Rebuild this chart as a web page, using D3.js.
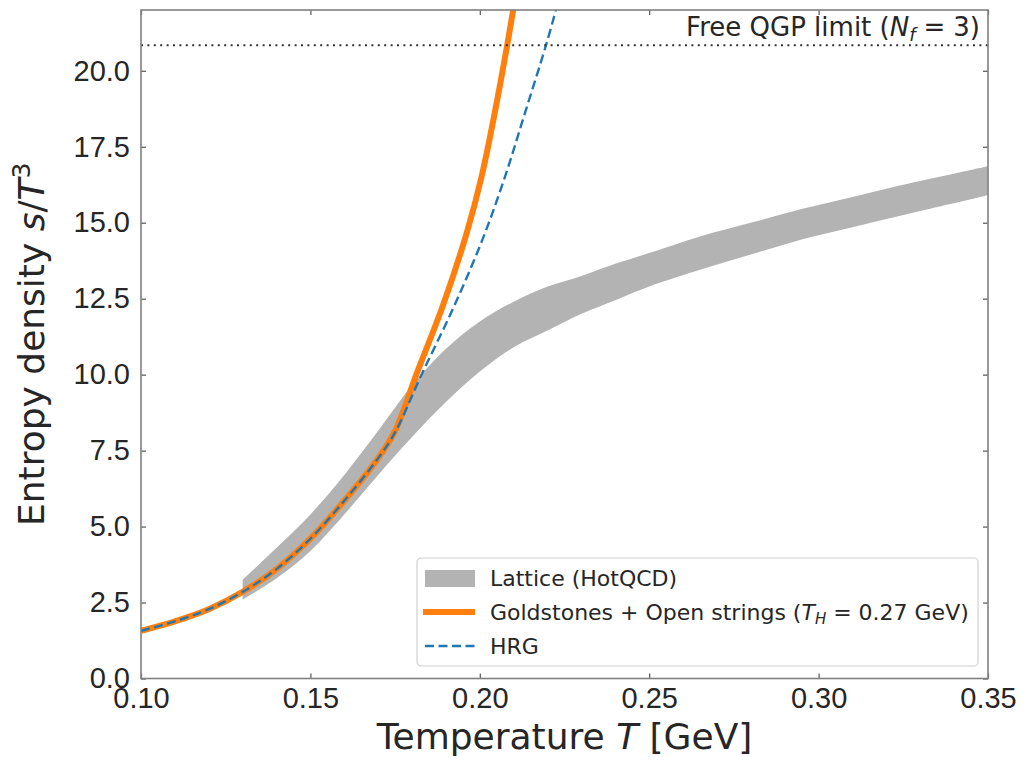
<!DOCTYPE html>
<html>
<head>
<meta charset="utf-8">
<script src="https://cdn.jsdelivr.net/npm/d3@7"></script>
<style>
  html, body { margin: 0; padding: 0; background: #fff; }
  svg { font-family: 'DejaVu Sans', sans-serif; }
  .tick text { fill: #262626; font-size: 29px; }
  .tick line { stroke: #555; stroke-width: 1.2; }
  .axis-label { fill: #262626; font-size: 36px; }
  .legend-text { fill: #262626; font-size: 22px; }
  .limit-text { fill: #262626; font-size: 26px; }
</style>
</head>
<body>
<svg id="chart" width="1028" height="760"></svg>
<script>
// Temperatures (GeV) and s/T^3
const hrgT = [0.100, 0.110, 0.120, 0.130, 0.140, 0.150, 0.160, 0.170, 0.175, 0.1828, 0.1922, 0.2008, 0.2074, 0.2133, 0.2197, 0.2227];
const hrgS = [1.57, 1.88, 2.28, 2.85, 3.60, 4.60, 5.85, 7.25, 8.10, 10.00, 12.20, 14.45, 16.50, 18.60, 20.90, 22.10];

const stringT = [0.100, 0.110, 0.120, 0.130, 0.140, 0.150, 0.160, 0.170, 0.175, 0.1814, 0.1892, 0.1961, 0.2006, 0.2043, 0.2077, 0.2100];
const stringS = [1.57, 1.88, 2.28, 2.85, 3.60, 4.60, 5.85, 7.25, 8.15, 10.04, 12.30, 14.65, 16.55, 18.55, 20.60, 22.10];

const latticeT = [0.130, 0.140, 0.150, 0.160, 0.170, 0.180, 0.190, 0.200, 0.210, 0.220, 0.230, 0.240, 0.250, 0.265, 0.280, 0.295, 0.310, 0.325, 0.350];
const latticeLow = [2.60, 3.30, 4.20, 5.40, 6.70, 7.95, 9.10, 10.10, 10.90, 11.45, 12.00, 12.45, 12.90, 13.45, 13.95, 14.45, 14.85, 15.25, 15.90];
const latticeHigh = [3.25, 4.30, 5.40, 6.70, 8.15, 9.65, 10.85, 11.75, 12.40, 12.90, 13.25, 13.65, 14.00, 14.55, 15.00, 15.45, 15.85, 16.25, 16.86];

const qgpLimit = 20.84;

const xTicks = [0.10, 0.15, 0.20, 0.25, 0.30, 0.35];
const yTicks = [0, 2.5, 5, 7.5, 10, 12.5, 15, 17.5, 20];

const colors = { lattice: '#b3b3b3', strings: '#ff7f0e', hrg: '#1f77b4' };

const plot = { left: 141, right: 988, top: 10, bottom: 678.5 };

/**
 * Builds the X and Y scales of the plot
 * @returns {object} The scales
 */
function makeScales() {
  const x = d3.scaleLinear().domain([0.1, 0.35]).range([plot.left, plot.right]);
  const y = d3.scaleLinear().domain([0, 22]).range([plot.bottom, plot.top]);
  return { x, y };
}

/**
 * Draws the four spines with inward ticks on every side
 */
function addAxes(svg, x, y) {
  svg.append('g')
    .attr('transform', `translate(0,${plot.bottom})`)
    .call(d3.axisBottom(x).tickValues(xTicks).tickFormat(d3.format('.2f'))
      .tickSizeInner(-5).tickSizeOuter(0).tickPadding(9))
    .call((g) => g.select('.domain').remove());
  svg.append('g')
    .attr('transform', `translate(0,${plot.top})`)
    .call(d3.axisTop(x).tickValues(xTicks).tickFormat('')
      .tickSizeInner(-5).tickSizeOuter(0))
    .call((g) => g.select('.domain').remove());
  svg.append('g')
    .attr('transform', `translate(${plot.left},0)`)
    .call(d3.axisLeft(y).tickValues(yTicks).tickFormat(d3.format('.1f'))
      .tickSizeInner(-5).tickSizeOuter(0).tickPadding(11))
    .call((g) => g.select('.domain').remove());
  svg.append('g')
    .attr('transform', `translate(${plot.right},0)`)
    .call(d3.axisRight(y).tickValues(yTicks).tickFormat('')
      .tickSizeInner(-5).tickSizeOuter(0))
    .call((g) => g.select('.domain').remove());

  svg.selectAll('.tick text').attr('font-family', null).attr('font-size', null);

  svg.append('rect')
    .attr('x', plot.left)
    .attr('y', plot.top)
    .attr('width', plot.right - plot.left)
    .attr('height', plot.bottom - plot.top)
    .attr('fill', 'none')
    .attr('stroke', '#808080')
    .attr('stroke-width', 1.6);
}

/**
 * Adds the axis titles
 */
function addLabels(svg) {
  const xl = svg.append('text')
    .attr('class', 'axis-label')
    .attr('x', (plot.left + plot.right) / 2)
    .attr('y', 749)
    .attr('text-anchor', 'middle');
  xl.append('tspan').text('Temperature ');
  xl.append('tspan').attr('font-style', 'italic').text('T');
  xl.append('tspan').text(' [GeV]');

  const yl = svg.append('text')
    .attr('class', 'axis-label')
    .attr('transform', `translate(44,${(plot.top + plot.bottom) / 2}) rotate(-90)`)
    .attr('text-anchor', 'middle');
  yl.append('tspan').text('Entropy density ');
  yl.append('tspan').attr('font-style', 'italic').text('s');
  yl.append('tspan').text('/');
  yl.append('tspan').attr('font-style', 'italic').text('T');
  yl.append('tspan').attr('font-size', '25px').attr('dy', -14).text('3');
}

/**
 * Draws the lattice band, the two model curves and the free limit
 */
function drawCurves(svg, x, y) {
  svg.append('clipPath').attr('id', 'clip')
    .append('rect')
    .attr('x', plot.left)
    .attr('y', plot.top)
    .attr('width', plot.right - plot.left)
    .attr('height', plot.bottom - plot.top);

  const g = svg.append('g').attr('clip-path', 'url(#clip)');

  const band = d3.area()
    .x((d, i) => x(latticeT[i]))
    .y0((d, i) => y(latticeLow[i]))
    .y1((d, i) => y(latticeHigh[i]))
    .curve(d3.curveCatmullRom.alpha(0.5));
  g.append('path')
    .attr('d', band(latticeT))
    .attr('fill', colors.lattice);

  const line = (ts, ss) => d3.line()
    .x((d, i) => x(ts[i]))
    .y((d, i) => y(ss[i]))
    .curve(d3.curveCatmullRom.alpha(0.5))(ts);

  g.append('path')
    .attr('d', line(stringT, stringS))
    .attr('fill', 'none')
    .attr('stroke', colors.strings)
    .attr('stroke-width', 6);

  g.append('path')
    .attr('d', line(hrgT, hrgS))
    .attr('fill', 'none')
    .attr('stroke', colors.hrg)
    .attr('stroke-width', 2.4)
    .attr('stroke-dasharray', '9,4.5');

  g.append('line')
    .attr('x1', plot.left)
    .attr('x2', plot.right)
    .attr('y1', y(qgpLimit))
    .attr('y2', y(qgpLimit))
    .attr('stroke', '#333')
    .attr('stroke-width', 2)
    .attr('stroke-dasharray', '2,4.4');

  // mathtext-like spacing around the "=" sign
  const t = svg.append('text')
    .attr('class', 'limit-text')
    .attr('x', 980)
    .attr('y', 36)
    .attr('text-anchor', 'end');
  t.append('tspan').text('Free QGP limit (');
  t.append('tspan').attr('font-style', 'italic').text('N');
  t.append('tspan').attr('font-style', 'italic').attr('font-size', '18px').attr('dy', 5).text('f');
  t.append('tspan').attr('dy', -5).attr('dx', 8).text('=');
  t.append('tspan').attr('dx', 8).text('3)');
}

/**
 * Draws the legend box in the lower right corner
 */
function addLegend(svg) {
  const lg = svg.append('g').attr('transform', 'translate(417,558)');
  lg.append('rect')
    .attr('width', 561)
    .attr('height', 108)
    .attr('rx', 4)
    .attr('fill', '#fff')
    .attr('fill-opacity', 0.85)
    .attr('stroke', '#d0d0d0')
    .attr('stroke-width', 1.2);

  lg.append('rect')
    .attr('x', 8).attr('y', 12)
    .attr('width', 50).attr('height', 17)
    .attr('fill', colors.lattice);
  lg.append('line')
    .attr('x1', 6).attr('x2', 58).attr('y1', 54).attr('y2', 54)
    .attr('stroke', colors.strings).attr('stroke-width', 6);
  lg.append('line')
    .attr('x1', 8).attr('x2', 58).attr('y1', 88).attr('y2', 88)
    .attr('stroke', colors.hrg).attr('stroke-width', 2.4)
    .attr('stroke-dasharray', '9,4.5');

  lg.append('text').attr('class', 'legend-text')
    .attr('x', 73).attr('y', 28).text('Lattice (HotQCD)');
  const s = lg.append('text').attr('class', 'legend-text')
    .attr('x', 73).attr('y', 62);
  s.append('tspan').text('Goldstones + Open strings (');
  s.append('tspan').attr('font-style', 'italic').text('T');
  s.append('tspan').attr('font-style', 'italic').attr('font-size', '15px').attr('dy', 4).text('H');
  s.append('tspan').attr('dy', -4).text(' = 0.27 GeV)');
  lg.append('text').attr('class', 'legend-text')
    .attr('x', 73).attr('y', 96).text('HRG');
}

const svg = d3.select('#chart');
const { x, y } = makeScales();
drawCurves(svg, x, y);
addAxes(svg, x, y);
addLabels(svg);
addLegend(svg);
</script>
</body>
</html>
